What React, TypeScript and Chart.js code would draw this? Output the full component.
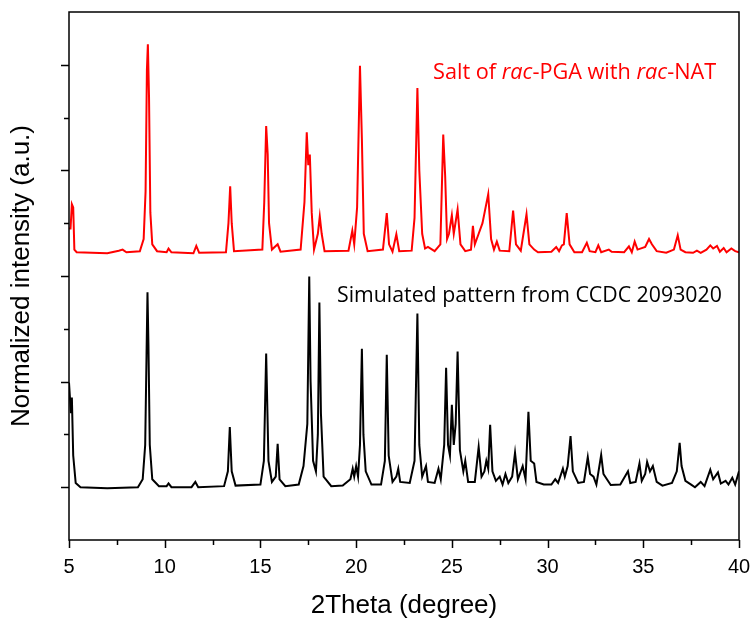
import React, { useEffect, useRef } from 'react';
import { Chart, registerables } from 'chart.js';

Chart.register(...registerables);

// 2Theta positions and normalized intensities (offset)
const blackX = [5.0, 5.05, 5.1, 5.15, 5.22, 5.35, 5.6, 7.0, 8.6, 8.85, 8.98, 9.05, 9.1, 9.15, 9.22, 9.35, 9.7, 10.1, 10.2, 10.35, 11.4, 11.6, 11.75, 13.1, 13.3, 13.4, 13.5, 13.7, 15.0, 15.18, 15.3, 15.42, 15.6, 15.8, 15.9, 16.0, 16.3, 17.0, 17.25, 17.45, 17.55, 17.62, 17.75, 17.9, 18.0, 18.08, 18.16, 18.3, 18.7, 19.3, 19.7, 19.82, 19.9, 20.0, 20.1, 20.2, 20.3, 20.38, 20.5, 20.8, 21.3, 21.5, 21.6, 21.7, 21.9, 22.1, 22.2, 22.3, 22.8, 23.05, 23.2, 23.3, 23.45, 23.65, 23.75, 24.1, 24.3, 24.42, 24.6, 24.7, 24.8, 24.9, 25.0, 25.1, 25.2, 25.3, 25.42, 25.6, 25.7, 25.85, 26.2, 26.4, 26.55, 26.7, 26.8, 26.9, 27.0, 27.12, 27.3, 27.5, 27.65, 27.8, 27.95, 28.15, 28.3, 28.45, 28.7, 28.85, 29.0, 29.12, 29.3, 29.42, 29.8, 30.2, 30.4, 30.55, 30.8, 30.9, 31.05, 31.2, 31.32, 31.6, 31.9, 32.1, 32.22, 32.4, 32.55, 32.8, 32.92, 33.1, 33.3, 33.8, 34.2, 34.32, 34.6, 34.8, 34.92, 35.1, 35.2, 35.35, 35.5, 35.7, 36.0, 36.5, 36.75, 36.9, 37.0, 37.2, 37.5, 37.7, 38.0, 38.2, 38.5, 38.65, 38.9, 39.05, 39.3, 39.45, 39.65, 39.8, 40.0];
const blackY = [2.98, 2.98, 2.4, 2.7, 1.6, 1.08, 1.0, 0.98, 1.0, 1.15, 1.8, 3.5, 4.69, 3.7, 1.8, 1.15, 1.02, 1.02, 1.07, 1.0, 1.0, 1.1, 1.0, 1.02, 1.3, 2.14, 1.3, 1.03, 1.05, 1.5, 3.53, 1.5, 1.1, 1.2, 1.82, 1.15, 1.02, 1.05, 1.4, 2.2, 4.99, 3.0, 1.5, 1.3, 2.0, 4.5, 2.4, 1.2, 1.02, 1.03, 1.15, 1.35, 1.2, 1.4, 1.2, 1.8, 3.62, 2.0, 1.3, 1.05, 1.05, 1.5, 3.51, 1.6, 1.1, 1.2, 1.35, 1.1, 1.08, 1.5, 4.29, 1.8, 1.2, 1.4, 1.1, 1.08, 1.35, 1.15, 1.8, 3.26, 1.8, 1.6, 2.56, 1.8, 2.2, 3.57, 1.7, 1.3, 1.5, 1.1, 1.1, 1.76, 1.2, 1.3, 1.5, 1.35, 2.18, 1.3, 1.12, 1.2, 1.05, 1.25, 1.08, 1.2, 1.65, 1.15, 1.4, 1.15, 2.43, 1.5, 1.45, 1.1, 1.05, 1.05, 1.15, 1.08, 1.35, 1.2, 1.4, 1.97, 1.3, 1.08, 1.1, 1.57, 1.25, 1.2, 1.05, 1.61, 1.25, 1.15, 1.04, 1.05, 1.3, 1.08, 1.1, 1.45, 1.12, 1.25, 1.48, 1.3, 1.4, 1.1, 1.03, 1.08, 1.3, 1.84, 1.4, 1.12, 1.05, 1.0, 1.1, 1.02, 1.33, 1.15, 1.28, 1.07, 1.12, 1.05, 1.18, 1.05, 1.3];

const redX = [5.0, 5.08, 5.15, 5.22, 5.28, 5.4, 7.0, 7.6, 7.8, 8.0, 8.7, 8.9, 9.0, 9.07, 9.12, 9.18, 9.25, 9.35, 9.6, 10.1, 10.2, 10.35, 11.5, 11.65, 11.8, 13.2, 13.33, 13.42, 13.5, 13.62, 15.1, 15.2, 15.3, 15.38, 15.45, 15.6, 15.9, 16.05, 17.1, 17.3, 17.42, 17.5, 17.58, 17.68, 17.8, 18.0, 18.1, 18.2, 18.35, 19.6, 19.8, 19.9, 20.05, 20.2, 20.3, 20.4, 20.6, 21.4, 21.6, 21.72, 21.9, 22.1, 22.25, 22.9, 23.05, 23.2, 23.3, 23.45, 23.6, 23.75, 24.1, 24.4, 24.55, 24.65, 24.75, 24.85, 25.0, 25.1, 25.3, 25.45, 25.7, 26.0, 26.1, 26.2, 26.4, 26.6, 26.9, 27.05, 27.2, 27.35, 27.5, 28.0, 28.2, 28.35, 28.6, 28.9, 29.05, 29.3, 29.5, 30.2, 30.45, 30.6, 30.75, 30.85, 31.0, 31.15, 31.4, 31.8, 32.05, 32.2, 32.5, 32.65, 32.8, 33.2, 33.35, 34.0, 34.25, 34.4, 34.55, 34.7, 35.1, 35.3, 35.45, 35.7, 36.2, 36.6, 36.8, 36.95, 37.2, 37.6, 37.8, 38.0, 38.3, 38.5, 38.65, 38.85, 39.0, 39.2, 39.35, 39.6, 39.8, 40.0];
const redY = [5.9, 5.9, 6.36, 6.3, 5.5, 5.45, 5.43, 5.48, 5.5, 5.45, 5.47, 5.7, 6.6, 8.9, 9.39, 8.4, 6.2, 5.6, 5.47, 5.45, 5.52, 5.45, 5.43, 5.57, 5.44, 5.45, 6.0, 6.7, 6.0, 5.47, 5.5, 6.4, 7.84, 7.3, 6.0, 5.5, 5.6, 5.46, 5.5, 6.4, 7.72, 7.1, 7.3, 6.2, 5.5, 5.8, 6.13, 5.8, 5.47, 5.48, 5.86, 5.6, 6.3, 8.98, 7.6, 5.8, 5.47, 5.5, 6.19, 5.6, 5.46, 5.79, 5.47, 5.48, 6.1, 8.56, 7.0, 5.8, 5.52, 5.55, 5.47, 5.6, 7.68, 6.9, 5.7, 5.8, 6.15, 5.8, 6.26, 5.6, 5.47, 5.5, 5.95, 5.6, 5.8, 6.0, 6.55, 5.7, 5.5, 5.65, 5.48, 5.47, 6.24, 5.6, 5.48, 6.17, 5.6, 5.5, 5.45, 5.46, 5.55, 5.47, 5.58, 5.6, 6.19, 5.6, 5.45, 5.45, 5.63, 5.47, 5.45, 5.58, 5.45, 5.5, 5.46, 5.45, 5.56, 5.45, 5.65, 5.5, 5.55, 5.7, 5.6, 5.47, 5.44, 5.5, 5.77, 5.5, 5.45, 5.44, 5.48, 5.44, 5.5, 5.58, 5.52, 5.57, 5.46, 5.53, 5.45, 5.52, 5.47, 5.45];

const xMajorTicks = [5, 10, 15, 20, 25, 30, 35, 40];
const xMinorTicks = [7.5, 12.5, 17.5, 22.5, 27.5, 32.5, 37.5];
const yMajorTicks = [1, 3, 5, 7, 9];
const yMinorTicks = [2, 4, 6, 8];

const redLabel = [
  { t: 'Salt of ', i: false },
  { t: 'rac', i: true },
  { t: '-PGA with ', i: false },
  { t: 'rac', i: true },
  { t: '-NAT', i: false },
];
const blackLabel = 'Simulated pattern from CCDC 2093020';

const toPoints = (xs: number[], ys: number[]) => xs.map((x, i) => ({ x, y: ys[i] }));

const framePlugin = {
  id: 'frameTicks',
  afterDraw(chart: any) {
    const { ctx, chartArea: a, scales } = chart;
    ctx.save();
    ctx.strokeStyle = '#000';
    ctx.lineWidth = 1.5;
    ctx.strokeRect(a.left, a.top, a.right - a.left, a.bottom - a.top);
    ctx.beginPath();
    for (const v of xMajorTicks) {
      const p = Math.round(scales.x.getPixelForValue(v)) + 0.5;
      ctx.moveTo(p, a.bottom);
      ctx.lineTo(p, a.bottom + 8);
    }
    for (const v of xMinorTicks) {
      const p = Math.round(scales.x.getPixelForValue(v)) + 0.5;
      ctx.moveTo(p, a.bottom);
      ctx.lineTo(p, a.bottom + 5);
    }
    for (const v of yMajorTicks) {
      const p = Math.round(scales.y.getPixelForValue(v)) + 0.5;
      ctx.moveTo(a.left, p);
      ctx.lineTo(a.left - 8, p);
    }
    for (const v of yMinorTicks) {
      const p = Math.round(scales.y.getPixelForValue(v)) + 0.5;
      ctx.moveTo(a.left, p);
      ctx.lineTo(a.left - 5, p);
    }
    ctx.stroke();

    // annotations
    const fam = '"Open Sans", "Noto Sans", sans-serif';
    ctx.textBaseline = 'middle';
    ctx.fillStyle = '#ff0000';
    let x = 433;
    const yr = 73;
    for (const seg of redLabel) {
      ctx.font = `${seg.i ? 'italic ' : ''}21.7px ${fam}`;
      ctx.fillText(seg.t, x, yr);
      x += ctx.measureText(seg.t).width;
    }
    ctx.fillStyle = '#000';
    ctx.font = `21.3px ${fam}`;
    ctx.fillText(blackLabel, 337, 296);
    ctx.restore();
  },
};

export default function App() {
  const ref = useRef<HTMLCanvasElement | null>(null);
  useEffect(() => {
    if (!ref.current) return;
    const chart = new Chart(ref.current, {
      type: 'line',
      data: {
        datasets: [
          {
            data: toPoints(redX, redY),
            borderColor: '#ff0000',
            borderWidth: 2,
            pointRadius: 0,
            tension: 0,
            fill: false,
          },
          {
            data: toPoints(blackX, blackY),
            borderColor: '#000000',
            borderWidth: 2,
            pointRadius: 0,
            tension: 0,
            fill: false,
          },
        ],
      },
      options: {
        responsive: false,
        animation: false,
        events: [],
        layout: { padding: { top: 12, right: 12, left: 0, bottom: 0 } },
        plugins: { legend: { display: false }, tooltip: { enabled: false } },
        scales: {
          x: {
            type: 'linear',
            min: 5,
            max: 40,
            grid: { display: false, drawTicks: true, tickLength: 8 },
            border: { display: false },
            ticks: {
              stepSize: 5,
              padding: 7,
              color: '#000',
              maxRotation: 0,
              font: { family: '"Liberation Sans", Arial, sans-serif', size: 20 },
            },
            title: {
              display: true,
              text: '2Theta (degree)',
              color: '#000',
              font: { family: '"Liberation Sans", Arial, sans-serif', size: 26, lineHeight: 1.2 },
              padding: { top: 0, bottom: 0 },
            },
            afterFit: (s: any) => {
              s.height = 81;
              s.paddingLeft = 0;
              s.paddingRight = 0;
            },
          },
          y: {
            type: 'linear',
            min: 0,
            max: 10,
            grid: { display: false },
            border: { display: false },
            ticks: { display: false, stepSize: 1 },
            title: {
              display: true,
              text: 'Normalized intensity (a.u.)',
              color: '#000',
              font: { family: '"Liberation Sans", Arial, sans-serif', size: 26, lineHeight: 1.2 },
              padding: { top: 6, bottom: 0 },
            },
            afterFit: (s: any) => {
              s.width = 69;
              s.paddingTop = 0;
              s.paddingBottom = 0;
            },
          },
        },
      },
      plugins: [framePlugin],
    });
    return () => chart.destroy();
  }, []);
  return (
    <div style={{ position: 'fixed', left: 0, top: 0, width: 751, height: 621, background: '#fff' }}>
      <canvas ref={ref} width={751} height={621} />
    </div>
  );
}
